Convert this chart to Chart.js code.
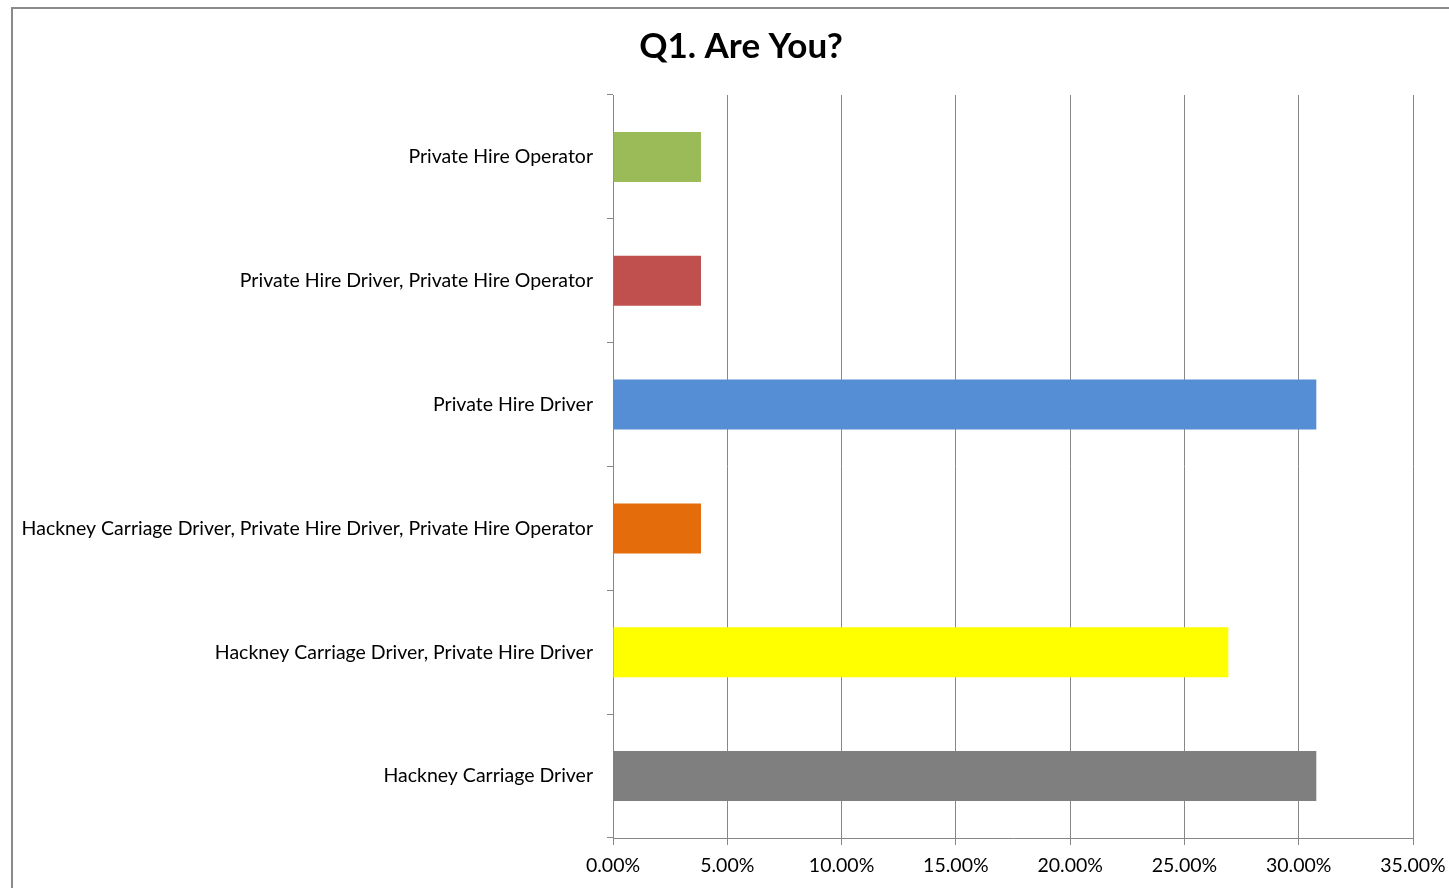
<!DOCTYPE html>
<html>
<head>
<meta charset="utf-8">
<script src="https://cdn.jsdelivr.net/npm/chart.js@4.4.0/dist/chart.umd.min.js"></script>
<style>
  html, body { margin: 0; padding: 0; background: #fff; overflow: hidden; }
  #frame {
    position: absolute; left: 11px; top: 7px;
    width: 1460px; height: 900px;
    border-left: 2px solid #8a8a8a; border-top: 2px solid #8a8a8a;
    box-sizing: border-box;
  }
  #wrap { position: absolute; left: 11px; top: 7px; width: 1460px; height: 881px; }
</style>
</head>
<body>
<div id="frame"></div>
<div id="wrap"><canvas id="q1"></canvas></div>
<script>
// Q1 answers, listed top to bottom
const categories = [
  'Private Hire Operator',
  'Private Hire Driver, Private Hire Operator',
  'Private Hire Driver',
  'Hackney Carriage Driver, Private Hire Driver, Private Hire Operator',
  'Hackney Carriage Driver, Private Hire Driver',
  'Hackney Carriage Driver'
];
const percentages = [3.85, 3.85, 30.77, 3.85, 26.92, 30.77];
const barColours = ['#9BBB59', '#C0504D', '#558ED5', '#E46C0A', '#FFFF00', '#7F7F7F'];
const xTicks = [0, 5, 10, 15, 20, 25, 30, 35];

const font = 'Lato, "Open Sans", sans-serif';
const gridColour = '#878787';

// stretch the title box over the full canvas so it stays centred on the frame
const centreTitle = {
  id: 'centreTitle',
  afterLayout(chart) {
    const t = chart.titleBlock;
    if (!t) return;
    t.left = 0;
    t.right = chart.width;
    t.width = chart.width;
  }
};

new Chart(document.getElementById('q1'), {
  type: 'bar',
  data: {
    labels: categories,
    datasets: [{
      data: percentages,
      backgroundColor: barColours,
      categoryPercentage: 1,
      barPercentage: 0.404
    }]
  },
  plugins: [centreTitle],
  options: {
    indexAxis: 'y',
    responsive: true,
    maintainAspectRatio: false,
    animation: false,
    layout: { padding: { right: 58 } },
    plugins: {
      legend: { display: false },
      tooltip: { enabled: false },
      title: {
        display: true,
        text: 'Q1. Are You?',
        color: '#000',
        font: { family: font, size: 35, weight: 'bold' },
        padding: { top: 19, bottom: 27 }
      }
    },
    scales: {
      x: {
        min: 0,
        max: xTicks[xTicks.length - 1],
        afterBuildTicks: axis => { axis.ticks = xTicks.map(v => ({ value: v })); },
        afterFit: axis => { axis.height = 50; },
        border: { color: gridColour, width: 1 },
        grid: { color: gridColour, lineWidth: 1, tickLength: 7 },
        ticks: {
          color: '#000',
          padding: 9,
          font: { family: font, size: 19.5 },
          callback: v => v.toFixed(2) + '%'
        }
      },
      y: {
        afterFit: axis => { axis.width = 602; },
        border: { color: gridColour, width: 1 },
        grid: { drawOnChartArea: false, color: gridColour, tickLength: 6 },
        ticks: {
          color: '#000',
          padding: 14,
          font: { family: font, size: 19.5 }
        }
      }
    }
  }
});
</script>
</body>
</html>
